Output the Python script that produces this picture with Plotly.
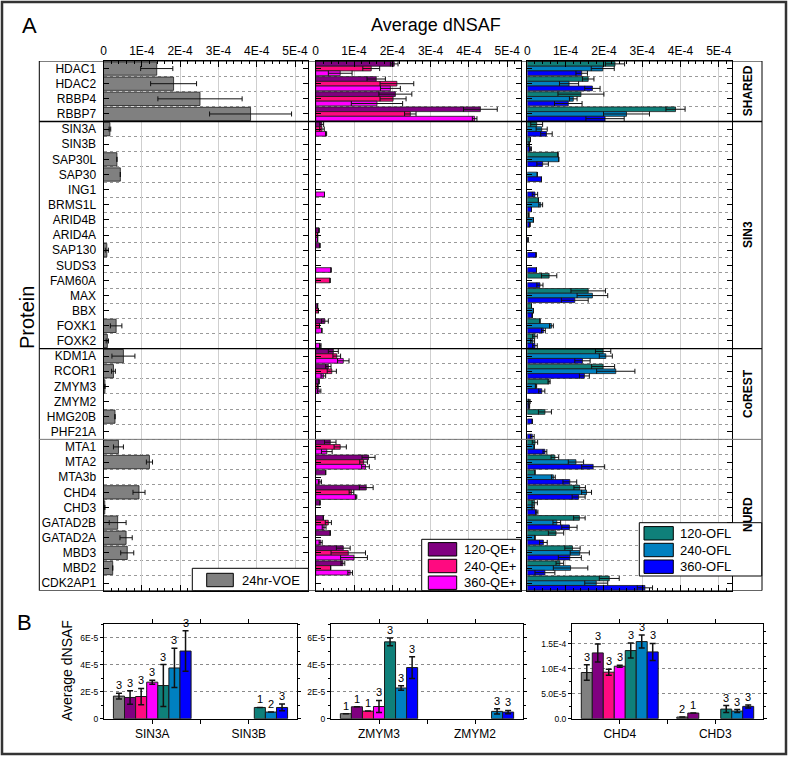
import plotly.graph_objects as go

# ---------------- data (Average dNSAF, in units of 1E-4) ----------------
proteins = ["HDAC1", "HDAC2", "RBBP4", "RBBP7",
            "SIN3A", "SIN3B", "SAP30L", "SAP30", "ING1", "BRMS1L", "ARID4B", "ARID4A",
            "SAP130", "SUDS3", "FAM60A", "MAX", "BBX", "FOXK1", "FOXK2",
            "KDM1A", "RCOR1", "ZMYM3", "ZMYM2", "HMG20B", "PHF21A",
            "MTA1", "MTA2", "MTA3b", "CHD4", "CHD3", "GATAD2B", "GATAD2A", "MBD3", "MBD2", "CDK2AP1"]
complexes = ["SHARED", "SIN3", "CoREST", "NURD"]
complex_sizes = [4, 15, 6, 10]

voe_24hr = [1.39, 1.83, 2.52, 3.84,
            0.167, 0, 0.35, 0.44, 0, 0, 0, 0, 0.087, 0, 0, 0, 0, 0.33, 0.10,
            0.52, 0.26, 0.037, 0, 0.30, 0,
            0.39, 1.20, 0, 0.927, 0.033, 0.37, 0.59, 0.62, 0.24, 0]
voe_24hr_err = [0.42, 0.60, 1.10, 1.07,
                0.022, 0, 0, 0, 0, 0, 0, 0, 0.04, 0, 0, 0, 0, 0.15, 0.03,
                0.30, 0.05, 0, 0, 0, 0,
                0.13, 0.08, 0, 0.157, 0, 0.22, 0.16, 0.17, 0, 0]

qe120 = [2.05, 1.58, 2.08, 4.30,
         0.157, 0, 0, 0, 0, 0, 0, 0.087, 0.11, 0, 0, 0, 0.05, 0.24, 0,
         0.46, 0.33, 0.088, 0, 0, 0,
         0.38, 1.38, 0.26, 1.32, 0.113, 0.20, 0.38, 0.72, 0.71, 0]
qe120_err = [0.10, 0.24, 0.43, 0.44,
             0.05, 0, 0, 0, 0, 0, 0, 0, 0, 0, 0, 0, 0, 0.09, 0,
             0.13, 0.07, 0, 0, 0, 0,
             0.15, 0.17, 0, 0.18, 0, 0, 0, 0.18, 0.05, 0]
qe240 = [1.45, 2.12, 2.02, 2.47,
         0.164, 0, 0, 0, 0, 0, 0, 0.05, 0, 0, 0.375, 0, 0.07, 0.10, 0,
         0.55, 0.42, 0.056, 0, 0, 0,
         0.64, 1.25, 0, 0.933, 0, 0.33, 0, 0.85, 0.39, 0]
qe240_err = [0.22, 0.44, 0.34, 0.15,
             0.06, 0, 0, 0, 0, 0, 0, 0, 0, 0, 0, 0, 0, 0, 0,
             0.10, 0.12, 0, 0, 0, 0,
             0.16, 0.10, 0, 0.06, 0, 0.08, 0, 0.45, 0, 0]
qe360 = [0.64, 1.95, 1.60, 4.15,
         0.27, 0, 0, 0, 0.23, 0, 0, 0.05, 0, 0.40, 0, 0, 0, 0.16, 0.12,
         0.72, 0.20, 0.09, 0, 0, 0,
         0.29, 1.30, 0.11, 1.053, 0, 0.22, 0.13, 1.00, 0.90, 0]
qe360_err = [0.31, 0.26, 0.67, 0.06,
             0.015, 0, 0, 0, 0, 0, 0, 0, 0, 0, 0, 0, 0, 0, 0.02,
             0.15, 0.06, 0.045, 0, 0, 0,
             0.14, 0.10, 0.04, 0.02, 0, 0.05, 0.04, 0.35, 0.06, 0]

ofl120 = [2.29, 1.59, 1.40, 3.87,
          0.245, 0.083, 0.80, 0, 0, 0.29, 0.04, 0, 0, 0, 0.57, 1.59, 0.11, 0.33, 0.20,
          1.98, 1.98, 0.568, 0, 0.46, 0,
          0.20, 0.72, 0.20, 1.367, 0.193, 1.36, 0.75, 1.18, 0.85, 2.14]
ofl120_err = [0.25, 0.15, 0.60, 0.25,
              0.155, 0, 0, 0, 0, 0, 0, 0, 0, 0, 0.20, 0.45, 0, 0, 0.06,
              0.20, 0.30, 0.028, 0, 0.17, 0,
              0.07, 0.10, 0, 0.15, 0.07, 0.15, 0.20, 0.20, 0.10, 0.26]
ofl240 = [1.97, 1.09, 1.20, 2.59,
          0.375, 0.049, 0.82, 0.26, 0, 0.35, 0.16, 0, 0, 0, 0, 1.70, 0.16, 0.63, 0.14,
          2.05, 2.31, 0.227, 0.054, 0, 0,
          0.18, 1.27, 0.68, 1.547, 0.153, 0.77, 0.20, 1.37, 1.13, 1.80]
ofl240_err = [0.30, 0.25, 0.10, 0.60,
              0.145, 0, 0, 0, 0, 0.05, 0, 0, 0, 0, 0, 0.40, 0, 0.05, 0.05,
              0.17, 0.50, 0.017, 0.02, 0, 0,
              0, 0.20, 0.05, 0.13, 0.03, 0.10, 0, 0.25, 0.45, 0.30]
ofl360 = [1.42, 1.70, 1.07, 2.03,
          0.50, 0.083, 0.40, 0.37, 0.20, 0.11, 0.07, 0.02, 0.23, 0.24, 0.33, 1.24, 0.13, 0.42, 0.20,
          1.44, 1.49, 0.378, 0.049, 0.13, 0.13,
          0.46, 1.72, 1.11, 1.34, 0.247, 1.10, 0.42, 1.11, 0.46, 3.07]
ofl360_err = [0.15, 0.20, 0.36, 0.50,
              0.15, 0.025, 0.15, 0, 0.07, 0, 0, 0, 0, 0, 0.08, 0.35, 0, 0.05, 0.06,
              0.20, 0.13, 0.08, 0.012, 0, 0.05,
              0.05, 0.30, 0.18, 0.17, 0.03, 0.20, 0.10, 0.30, 0.26, 0.20]

# panel B: protein pairs and replicate counts (n) shown above bars
b_pairs = [("SIN3A", "SIN3B"), ("ZMYM3", "ZMYM2"), ("CHD4", "CHD3")]
n_SIN3A = [3, 3, 3, 3, 3, 3, 3]
n_SIN3B = [None, None, None, None, 1, 2, 3]
n_ZMYM3 = [1, 1, 1, 3, 3, 3, 3]
n_ZMYM2 = [None, None, None, None, None, 3, 3]
n_CHD4 = [3, 3, 3, 3, 3, 3, 3]
n_CHD3 = [2, 1, None, None, 3, 3, 3]
b_counts = {"SIN3A": n_SIN3A, "SIN3B": n_SIN3B, "ZMYM3": n_ZMYM3,
            "ZMYM2": n_ZMYM2, "CHD4": n_CHD4, "CHD3": n_CHD3}
b_yranges = [7e-5, 7e-5, 1.9e-4]
b_ticks = [([0, 2e-5, 4e-5, 6e-5], ["0", "2E-5", "4E-5", "6E-5"]),
           ([0, 2e-5, 4e-5, 6e-5], ["0", "2E-5", "4E-5", "6E-5"]),
           ([0, 5e-5, 1e-4, 1.5e-4], ["0.0", "5.0E-5", "1.0E-4", "1.5E-4"])]

x_ticks = [0, 1e-4, 2e-4, 3e-4, 4e-4, 5e-4]
x_ticktext = ["0", "1E-4", "2E-4", "3E-4", "4E-4", "5E-4"]

SCALE = 1e-4
GRAY, PURPLE, PINK, MAGENTA = "#808080", "#800080", "#FF0A80", "#FF00FF"
TEAL, STEEL, BLUE = "#0F807A", "#0080C0", "#0000FF"
FONT = "Liberation Sans, Arial, sans-serif"

series = [("24hr-VOE", voe_24hr, voe_24hr_err, GRAY),
          ("120-QE+", qe120, qe120_err, PURPLE),
          ("240-QE+", qe240, qe240_err, PINK),
          ("360-QE+", qe360, qe360_err, MAGENTA),
          ("120-OFL", ofl120, ofl120_err, TEAL),
          ("240-OFL", ofl240, ofl240_err, STEEL),
          ("360-OFL", ofl360, ofl360_err, BLUE)]

W, H = 790, 757


def fx(px):
    return px / W


def fy(py):
    return 1 - py / H


def sc(v):
    return [x * SCALE if x else None for x in v]


fig = go.Figure()
rows = list(range(len(proteins)))
LINE = dict(color="#1a1a1a", width=0.8)

# ---- panel A ----
for k, (name, vals, errs, col) in enumerate(series):
    if k == 0:
        xa, ya, w, off = "x", "y", 0.88, -0.44
    else:
        grp = (k - 1) // 3
        j = (k - 1) % 3
        xa, ya = ("x2", "y2") if grp == 0 else ("x3", "y3")
        w, off = 0.31, -0.465 + j * 0.31
    fig.add_trace(go.Bar(
        y=rows, x=sc(vals), orientation="h", name=name, xaxis=xa, yaxis=ya,
        width=w, offset=off, marker=dict(color=col, line=LINE), showlegend=False,
        error_x=dict(type="data", array=sc(errs), color="#111", thickness=1, width=2.5)))

# ---- panel B ----
BW = 0.115
for p, (c1, c2) in enumerate(b_pairs):
    xa, ya = "x%d" % (p + 4), "y%d" % (p + 4)
    i1, i2 = proteins.index(c1), proteins.index(c2)
    for k, (name, vals, errs, col) in enumerate(series):
        off = -0.4025 + k * BW
        v = sc([vals[i1], vals[i2]])
        e = sc([errs[i1], errs[i2]])
        fig.add_trace(go.Bar(
            x=[1, 2], y=v, xaxis=xa, yaxis=ya, width=BW, offset=off, name=name,
            marker=dict(color=col, line=dict(color="#1a1a1a", width=1)), showlegend=False,
            error_y=dict(type="data", array=e, color="#111", thickness=1.5, width=3)))
        for ci, cname in enumerate((c1, c2)):
            n = b_counts[cname][k]
            if n is None or v[ci] is None:
                continue
            top = v[ci] + (e[ci] or 0)
            fig.add_annotation(x=ci + 1 + off + BW / 2, y=top, xref=xa, yref=ya, text=str(n),
                               showarrow=False, xanchor="center", yanchor="bottom", yshift=0,
                               font=dict(size=11, color="black", family=FONT))

# ---- layout ----
A_DOM = [fy(590.7), fy(61)]
xcommon = dict(range=[0, 5.35e-4], side="top", tickmode="array", tickvals=x_ticks, ticktext=x_ticktext,
               ticks="inside", ticklen=6, tickcolor="black", showline=True, linecolor="black",
               linewidth=1, mirror="ticks", showgrid=True, gridcolor="#cfcfcf", gridwidth=1,
               zeroline=False, automargin=False, tickfont=dict(size=12, color="black", family=FONT),
               minor=dict(tickmode="linear", tick0=0, dtick=2e-5, ticks="inside", ticklen=3,
                          tickcolor="black", showgrid=False))
ycommon = dict(range=[len(proteins) - 0.5, -0.5], domain=A_DOM, tickmode="array", tickvals=rows,
               ticks="inside", ticklen=5, tickcolor="black", showline=True, linecolor="black",
               linewidth=1, mirror="ticks", showgrid=False, zeroline=False, automargin=False,
               minor=dict(tickmode="array", tickvals=[r + 0.5 for r in rows[:-1]], showgrid=True,
                          gridcolor="#9a9a9a", griddash="dot", gridwidth=1, ticks=""))

layout = dict(template="none", width=W, height=H, margin=dict(l=0, r=0, t=0, b=0, pad=0),
              autosize=False, paper_bgcolor="white",
              plot_bgcolor="white", font=dict(family=FONT, color="black"), barmode="overlay",
              showlegend=False)
for i, (x0, x1) in enumerate([(103.5, 308.4), (315.7, 520.6), (527.3, 732.2)]):
    sfx = "" if i == 0 else str(i + 1)
    layout["xaxis" + sfx] = dict(xcommon, domain=[fx(x0), fx(x1)], anchor="y" + sfx)
    yd = dict(ycommon, anchor="x" + sfx)
    if i == 0:
        yd.update(ticktext=proteins, showticklabels=True, ticklabelstandoff=4,
                  tickfont=dict(size=12, color="black", family=FONT))
    else:
        yd.update(showticklabels=False)
    layout["yaxis" + sfx] = yd

B_DOM = [fy(718.7), fy(624)]
for p, (x0, x1) in enumerate([(104, 297), (331, 523), (572, 763)]):
    c1, c2 = b_pairs[p]
    layout["xaxis%d" % (p + 4)] = dict(
        domain=[fx(x0), fx(x1)], anchor="y%d" % (p + 4), range=[0.5, 2.5], tickmode="array",
        tickvals=[1, 1.5, 2], ticktext=[c1, "", c2], ticks="outside", ticklen=4, tickcolor="black",
        showline=True, linecolor="black", linewidth=1, mirror="ticks", showgrid=False, zeroline=False,
        automargin=False, tickfont=dict(size=12, color="black", family=FONT))
    tv, tt = b_ticks[p]
    layout["yaxis%d" % (p + 4)] = dict(
        domain=B_DOM, anchor="x%d" % (p + 4), range=[0, b_yranges[p]], tickmode="array",
        tickvals=tv, ticktext=tt, ticks="outside", ticklen=3, tickcolor="black", showline=True,
        linecolor="black", linewidth=1, mirror="ticks", showgrid=True, gridcolor="#8a8a8a",
        griddash="dot", zeroline=False, automargin=False,
        tickfont=dict(size=8.5, color="black", family=FONT),
        minor=dict(tickmode="linear", tick0=0, dtick=tv[1] / 2, ticks="outside", ticklen=2,
                   tickcolor="black", showgrid=False))
fig.update_layout(**layout)

# ---- frames, section separators ----
shapes = []
shapes.append(dict(type="rect", xref="paper", yref="paper", x0=fx(2), x1=fx(786), y0=fy(754), y1=fy(2),
                   line=dict(color="#333", width=2.5)))
shapes.append(dict(type="rect", xref="paper", yref="y", x0=fx(39.3), x1=fx(762), y0=-0.5,
                   y1=len(proteins) - 0.5, line=dict(color="black", width=1)))
cum = 0
sep_styles = [("black", 1.5), ("black", 1.2), ("#777777", 1)]
centers = []
for gi, size in enumerate(complex_sizes):
    centers.append(cum + (size - 1) / 2)
    cum += size
    if gi < len(complex_sizes) - 1:
        c, wdt = sep_styles[gi]
        shapes.append(dict(type="line", xref="paper", yref="y", x0=fx(39.3), x1=fx(762),
                           y0=cum - 0.5, y1=cum - 0.5, line=dict(color=c, width=wdt)))

# legends (drawn as boxes with swatches)
legend_specs = [((192.3, 308.4, 568.3, 590.7), 206.7, 233.3, 240, [580.0], series[0:1]),
                ((421.7, 520.6, 539.3, 590.7), 428.3, 456.7, 461.7, [549.3, 566.0, 582.7], series[1:4]),
                ((639.3, 761.7, 522.7, 576.0), 644.0, 673.3, 678.3, [533.3, 550.0, 566.7], series[4:7])]
annotations = []
for (bx0, bx1, by0, by1), sx0, sx1, tx, ycs, ser in legend_specs:
    shapes.append(dict(type="rect", xref="paper", yref="paper", x0=fx(bx0), x1=fx(bx1),
                       y0=fy(by1), y1=fy(by0), fillcolor="white", line=dict(color="black", width=1),
                       layer="above"))
    for yc, s in zip(ycs, ser):
        shapes.append(dict(type="rect", xref="paper", yref="paper", x0=fx(sx0), x1=fx(sx1),
                           y0=fy(yc + 6.7), y1=fy(yc - 6.7), fillcolor=s[3],
                           line=dict(color="black", width=1), layer="above"))
        annotations.append(dict(x=fx(tx), y=fy(yc), xref="paper", yref="paper", text=s[0],
                                showarrow=False, xanchor="left", yanchor="middle",
                                font=dict(size=13, color="black", family=FONT)))

for name, c in zip(complexes, centers):
    annotations.append(dict(x=fx(748), y=c, xref="paper", yref="y", text="<b>%s</b>" % name,
                            textangle=-90, showarrow=False, xanchor="center", yanchor="middle",
                            font=dict(size=12, color="black", family=FONT)))

annotations += [
    dict(x=fx(29), y=fy(26), text="A", font=dict(size=22)),
    dict(x=fx(24), y=fy(622), text="B", font=dict(size=22)),
    dict(x=fx(436), y=fy(25), text="Average dNSAF", font=dict(size=18)),
    dict(x=fx(27), y=fy(318), text="Protein", textangle=-90, font=dict(size=20)),
    dict(x=fx(67), y=fy(671), text="Average dNSAF", textangle=-90, font=dict(size=14)),
]
for a in annotations[-5:]:
    a.update(xref="paper", yref="paper", showarrow=False, xanchor="center", yanchor="middle")
    a["font"].update(color="black", family=FONT)

for a in annotations:
    fig.add_annotation(**a)
fig.update_layout(shapes=shapes)

fig.write_html("out.html", config={"displayModeBar": False, "staticPlot": True},
               post_script="document.body.style.margin='0';")
